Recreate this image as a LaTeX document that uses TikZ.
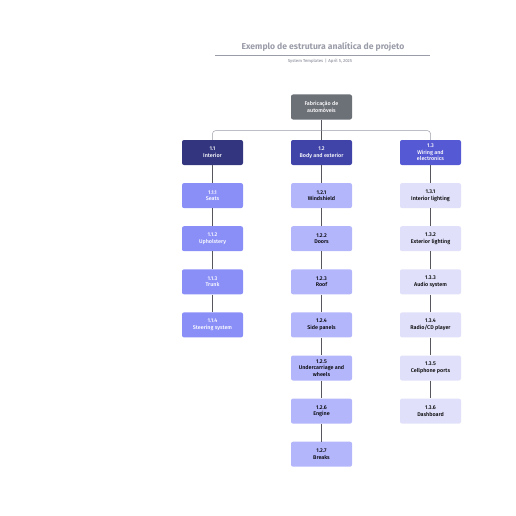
\documentclass[tikz,border=0pt]{standalone}
\usepackage{fontspec}
\setmainfont{Fira Sans}
\newfontfamily\medfont{Fira Sans Medium}
\usepackage{xcolor}
\usetikzlibrary{positioning}

\definecolor{rootgray}{HTML}{6C7077}
\definecolor{navyA}{HTML}{33367F}
\definecolor{navyB}{HTML}{4044A8}
\definecolor{navyC}{HTML}{5659D4}
\definecolor{lilacA}{HTML}{8A8FF7}
\definecolor{lilacB}{HTML}{B4B6FC}
\definecolor{lilacC}{HTML}{E0E0FA}
\definecolor{titlegray}{HTML}{9A9CA8}
\definecolor{linkgray}{HTML}{55575C}

\tikzset{
  wbs/.style={rectangle, rounded corners=2pt, minimum width=61pt, minimum height=25pt,
    align=center, inner sep=1pt, font=\medfont\fontsize{5.4}{6.6}\selectfont},
  rootbox/.style={wbs, fill=rootgray, text=white},
  sub/.style={wbs, text=white},
  item/.style={wbs},
  link/.style={draw=linkgray, line width=0.6pt}
}

\begin{document}
\begin{tikzpicture}[x=1pt, y=-1pt, node distance=17.7pt]
\useasboundingbox (0,0) rectangle (516,516);

% title
\node[font=\bfseries\fontsize{8.6}{10}\selectfont, text=titlegray] (title) at (323,47) {Exemplo de estrutura analítica de projeto};
\draw[titlegray, line width=0.5pt] (215,55) -- (430,55);
\node[font=\medfont\fontsize{4.3}{5}\selectfont, text=titlegray] (sub) at (320,61) {System Templates \,|\, April 5, 2025};

% root and level 1
\node[rootbox] (R) at (321.5,107) {Fabricação de\\automóveis};
\node[sub, fill=navyA] (A) at (212.5,152.5) {1.1\\Interior};
\node[sub, fill=navyB] (B) at (321.5,152.5) {1.2\\Body and exterior};
\node[sub, fill=navyC] (C) at (430.5,152.5) {1.3\\Wiring and\\electronics};

% 1.1
\node[item, fill=lilacA, text=white] (A1) [below=of A] {1.1.1\\Seats};
\node[item, fill=lilacA, text=white] (A2) [below=of A1] {1.1.2\\Upholstery};
\node[item, fill=lilacA, text=white] (A3) [below=of A2] {1.1.3\\Trunk};
\node[item, fill=lilacA, text=white] (A4) [below=of A3] {1.1.4\\Steering system};

% 1.2
\node[item, fill=lilacB] (B1) [below=of B] {1.2.1\\Windshield};
\node[item, fill=lilacB] (B2) [below=of B1] {1.2.2\\Doors};
\node[item, fill=lilacB] (B3) [below=of B2] {1.2.3\\Roof};
\node[item, fill=lilacB] (B4) [below=of B3] {1.2.4\\Side panels};
\node[item, fill=lilacB] (B5) [below=of B4] {1.2.5\\Undercarriage and\\wheels};
\node[item, fill=lilacB] (B6) [below=of B5] {1.2.6\\Engine};
\node[item, fill=lilacB] (B7) [below=of B6] {1.2.7\\Breaks};

% 1.3
\node[item, fill=lilacC] (C1) [below=of C] {1.3.1\\Interior lighting};
\node[item, fill=lilacC] (C2) [below=of C1] {1.3.2\\Exterior lighting};
\node[item, fill=lilacC] (C3) [below=of C2] {1.3.3\\Audio system};
\node[item, fill=lilacC] (C4) [below=of C3] {1.3.4\\Radio/CD player};
\node[item, fill=lilacC] (C5) [below=of C4] {1.3.5\\Cellphone ports};
\node[item, fill=lilacC] (C6) [below=of C5] {1.3.6\\Dashboard};

% links
\draw[link] (R.south) -- ++(0,11) coordinate (bus);
\draw[draw=titlegray, line width=0.5pt, rounded corners=3pt] (bus) -| (A.north);
\draw[draw=titlegray, line width=0.5pt, rounded corners=3pt] (bus) -| (C.north);
\draw[link] (bus) -- (B.north);

\foreach \p/\c in {A/A1, A1/A2, A2/A3, A3/A4,
                   B/B1, B1/B2, B2/B3, B3/B4, B4/B5, B5/B6, B6/B7,
                   C/C1, C1/C2, C2/C3, C3/C4, C4/C5, C5/C6}
  \draw[link] (\p.south) -- (\c.north);
\end{tikzpicture}
\end{document}
